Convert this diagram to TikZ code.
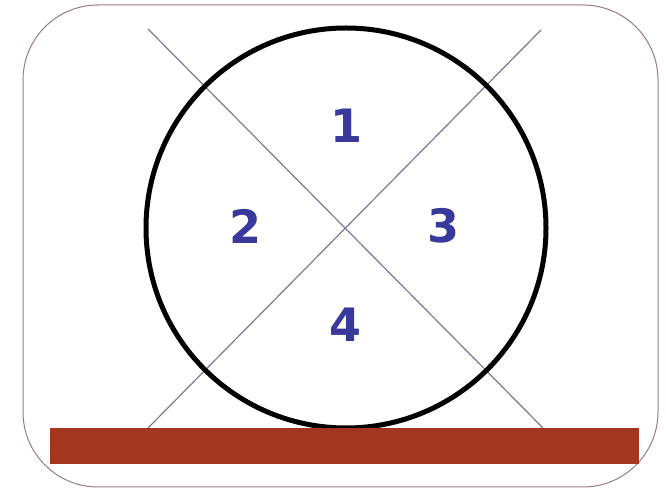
\documentclass[tikz,border=0pt]{standalone}
\usepackage{fontspec}
\newfontfamily\numfont{DejaVu Sans}
\definecolor{numblue}{HTML}{38399A}
\definecolor{barred}{HTML}{A3361E}
\definecolor{framec}{HTML}{9A7A86}
\definecolor{linec}{HTML}{7A7A96}
\begin{document}
\begin{tikzpicture}[x=1pt,y=1pt,
  numlabel/.style={font=\numfont\bfseries\fontsize{46}{50}\selectfont, text=numblue, inner sep=0pt},
  diag/.style={draw=linec, line width=1.2pt}]
\useasboundingbox (0,0) rectangle (666,489);
\fill[white] (0,0) rectangle (666,489);
\draw[framec, line width=1pt, rounded corners=75pt] (23,2) rectangle (658,484);
\coordinate (a1) at (148,460);
\coordinate (a2) at (543,61);
\coordinate (b1) at (541,459);
\coordinate (b2) at (148,61);
\draw[diag] (a1) -- (a2);
\draw[diag] (b1) -- (b2);
\node[draw=black, line width=5pt, circle, minimum size=400pt, inner sep=0pt] (c) at (346,261) {};
\fill[barred] (50,25) rectangle (639,61);
\node[numlabel] (n1) at (346,363) {1};
\node[numlabel] (n2) at (246,263) {2};
\node[numlabel] (n3) at (443,263) {3};
\node[numlabel] (n4) at (345,164) {4};
\end{tikzpicture}
\end{document}
